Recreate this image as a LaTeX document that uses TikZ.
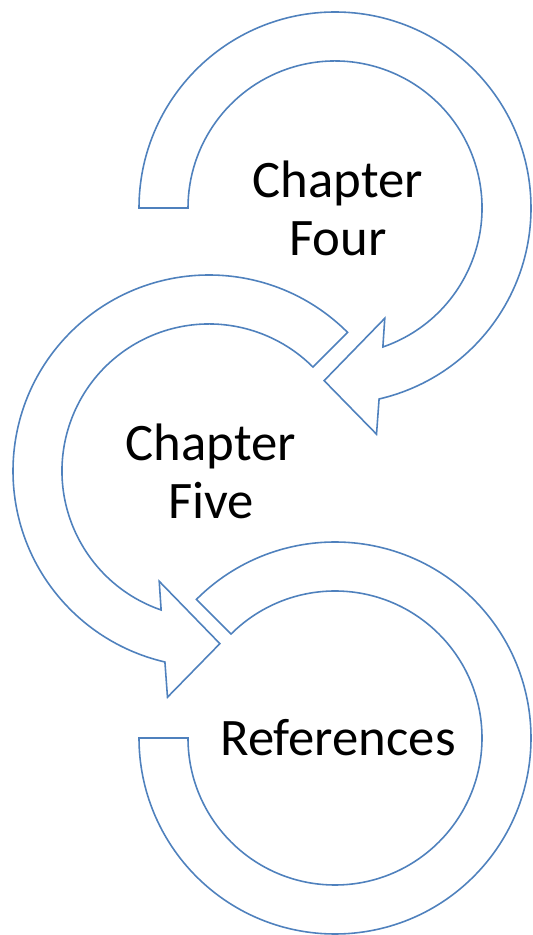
\documentclass[tikz,border=0pt]{standalone}
\usepackage{fontspec}
\setmainfont{Carlito}
\definecolor{ringblue}{RGB}{79,129,189}
\tikzset{
	band/.style={draw=ringblue, line width=0.9pt, line join=miter, fill=white},
	chaptext/.style={align=center, font=\fontsize{30}{33}\selectfont, text=black}
}

\begin{document}
\begin{tikzpicture}
				\useasboundingbox (0,0) rectangle (10.66,18.7);
				\coordinate (C4) at (6.70,14.54);
				\coordinate (C5) at (4.18,9.28);
				\coordinate (CR) at (6.70,3.94);
				\draw[band, shift={(C4)}] (180:3.92) arc[start angle=180, end angle=-77, radius=3.92] -- (-79.6:4.6) -- (-93.6:3.46) -- (-65.7:2.42) -- (-71:2.94) arc[start angle=-71, end angle=180, radius=2.94] -- cycle;
				\draw[band, shift={(C5)}] (45:3.92) arc[start angle=45, end angle=257, radius=3.92] -- (259.6:4.6) -- (273.6:3.46) -- (245.7:2.42) -- (251:2.94) arc[start angle=251, end angle=45, radius=2.94] -- cycle;
				\draw[band, shift={(CR)}] (135:3.92) arc[start angle=135, end angle=-180, radius=3.92] -- (180:2.94) arc[start angle=-180, end angle=135, radius=2.94] -- cycle;
				\node[chaptext] (four) at ([xshift=0.06cm]C4) {Chapter\\Four};
				\node[chaptext] (five) at ([xshift=0.04cm]C5) {Chapter\\Five};
				\node[chaptext] (refs) at ([xshift=0.06cm]CR) {References};
			\end{tikzpicture}
\end{document}
